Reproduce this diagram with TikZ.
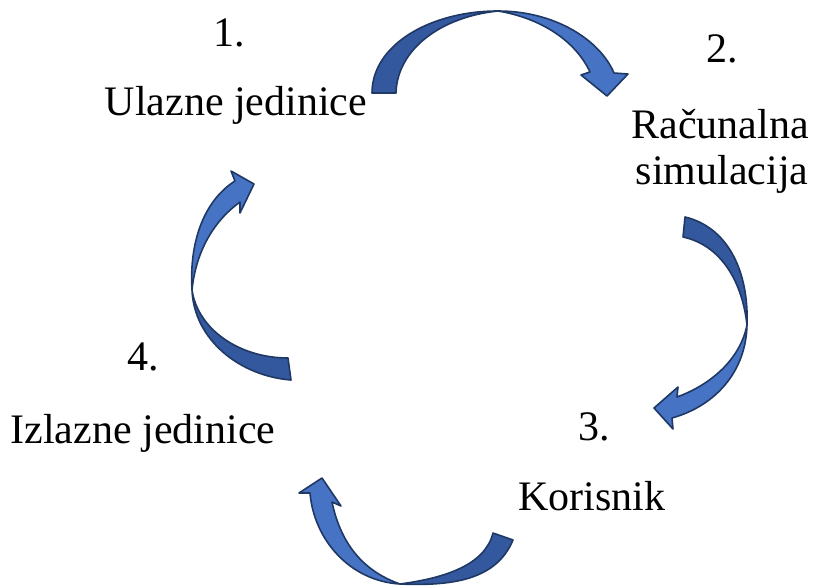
\documentclass[tikz,border=0pt]{standalone}
\usepackage{fontspec}
\setmainfont{LiberationSerif}[Extension=.ttf,UprightFont=*-Regular]
\definecolor{arrdark}{RGB}{52,88,158}
\definecolor{arrlight}{RGB}{70,115,196}
\definecolor{arrline}{RGB}{31,56,100}
\begin{document}
\begin{tikzpicture}[x=1pt,y=-1pt,
  lbl/.style={anchor=base,inner sep=0pt,font=\rmfamily\fontsize{42}{48}\selectfont},
  dk/.style={fill=arrdark,draw=arrline,line width=1.6pt,line join=round},
  lt/.style={fill=arrlight,draw=arrline,line width=1.6pt,line join=round}]
\useasboundingbox (0,0) rectangle (816,586);
% labels
\node[lbl] (n1) at (229,47) {1.};
\node[lbl] (t1) at (236,115) {Ulazne jedinice};
\node[lbl] (n2) at (722,63) {2.};
\node[lbl] (t2a) at (720,138) {Računalna};
\node[lbl] (t2b) at (722,184) {simulacija};
\node[lbl] (n3) at (594,440) {3.};
\node[lbl] (t3) at (592,510) {Korisnik};
\node[lbl] (n4) at (143,370) {4.};
\node[lbl] (t4) at (143,443) {Izlazne jedinice};
% arrow 1 (top)
\draw[dk] (372,93) .. controls (372,45) and (430,11) .. (498,11)
  .. controls (440,17) and (397,50) .. (396,93) -- cycle;
\draw[lt] (498,11) .. controls (555,11) and (600,40) .. (614,73)
  -- (628,74) -- (607,96) -- (581,75) -- (590,72)
  .. controls (575,40) and (540,18) .. (498,11) -- cycle;
% arrow 2 (right)
\draw[dk] (685,217) .. controls (727,227) and (749,270) .. (747,325)
  .. controls (742,280) and (720,245) .. (683,237) -- cycle;
\draw[lt] (747,325) .. controls (746,372) and (715,406) .. (672,418)
  -- (673,429) -- (654,408) -- (678,387) -- (677,397)
  .. controls (710,385) and (740,360) .. (747,325) -- cycle;
% arrow 3 (bottom)
\draw[dk] (513,540) .. controls (496,581) and (450,586) .. (400,584)
  .. controls (445,578) and (485,565) .. (493,533) -- cycle;
\draw[lt] (400,584) .. controls (350,581) and (314,540) .. (310,493)
  -- (299,493) -- (322,478) -- (341,506) -- (332,502)
  .. controls (340,540) and (360,570) .. (400,584) -- cycle;
% arrow 4 (left)
\draw[dk] (291,380) .. controls (240,376) and (194,340) .. (192,290)
  .. controls (198,330) and (240,358) .. (288,358) -- cycle;
\draw[lt] (192,290) .. controls (189,240) and (205,200) .. (235,181)
  -- (231,171) -- (254,184) -- (240,213) -- (240,202)
  .. controls (215,220) and (196,250) .. (192,290) -- cycle;
\end{tikzpicture}
\end{document}
